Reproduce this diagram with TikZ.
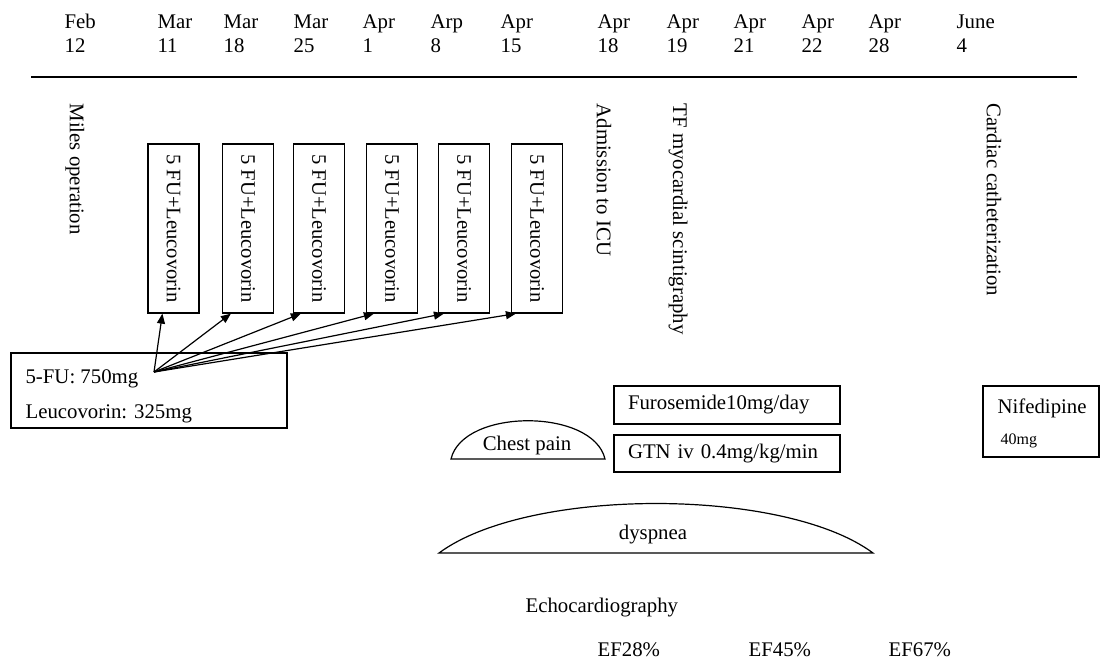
\documentclass[tikz,border=0pt]{standalone}
\usepackage{fontspec}
\setmainfont{Liberation Serif}
\usetikzlibrary{arrows.meta,calc}
\begin{document}
\begin{tikzpicture}[x=0.5pt,y=-0.5pt, line width=0.6pt,
  txt/.style={inner sep=0pt, font=\fontsize{10.4}{12.5}\selectfont},
  vtxt/.style={txt, rotate=-90, anchor=west},
  fubox/.style={draw, rotate=-90, minimum width=84.5pt, minimum height=25.5pt, inner sep=0pt, font=\fontsize{10.3}{12.5}\selectfont},
  rbox/.style={draw, inner sep=0pt, font=\fontsize{10.4}{12.5}\selectfont},
  arr/.style={-{Triangle[length=5pt,width=4pt]}},
]
\useasboundingbox (0,0) rectangle (1101,660);
% header dates
\foreach \x/\m/\d [count=\i] in {64/Feb/12, 157/Mar/11, 223/Mar/18, 293/Mar/25, 362/Apr/1, 430/Arp/8, 500/Apr/15, 597/Apr/18, 666/Apr/19, 733/Apr/21, 801/Apr/22, 868/Apr/28, 956/June/4} {
  \node[txt, anchor=base west] (m\i) at (\x,28) {\m};
  \node[txt, anchor=base west] (d\i) at (\x,52) {\d};
}
\coordinate (axL) at (31,77);
\coordinate (axR) at (1077,77);
\draw (axL) -- (axR);
% vertical event labels
\node[vtxt] (miles) at (75,103) {Miles operation};
\node[vtxt] (icu) at (604,103) {Admission to ICU};
\node[vtxt] (tf) at (678,103) {TF myocardial scintigraphy};
\node[vtxt] (cath) at (994,103) {Cardiac catheterization};
% chemo boxes
\foreach \x [count=\i] in {173.5,248,319,392,464,537}
  \node[fubox] (b\i) at (\x,228.5) {5 FU+Leucovorin};
% dose box
\node[rbox, minimum width=138pt, minimum height=37.5pt] (dose) at (149,390.5) {};
\node[txt, anchor=base west] (dosefu) at (25,383) {5-FU: 750mg};
\node[txt, anchor=base west] (doseleu) at (25,418) {Leucovorin: 325mg};
\coordinate (src) at (154,372);
\foreach \i/\dx in {1/15,2/9,3/8,4/8,5/6,6/5}
  \draw[arr] (src) -- ($(b\i.south east)+(\dx,0)$);
% chest pain
\coordinate (cpL) at (451,459);
\coordinate (cpR) at (605,459);
\draw (cpL) .. controls (463,408) and (593,408) .. (cpR) -- cycle;
\node[txt] (chest) at (527,445) {Chest pain};
% drugs
\node[rbox, minimum width=113pt, minimum height=19pt, text width=99pt, align=left, inner xsep=7pt] (furo) at (727,405) {Furosemide10mg/day};
\node[rbox, minimum width=113pt, minimum height=18.5pt, text width=99pt, align=left, inner xsep=7pt] (gtn) at (727,453.5) {GTN iv 0.4mg/kg/min};
\node[rbox, minimum width=58pt, minimum height=35.5pt] (nif) at (1041,421.5) {};
\node[txt, anchor=base west] (nifname) at (997,413) {Nifedipine};
\node[txt, anchor=base west, font=\fontsize{8}{10}\selectfont] (nifdose) at (1000,444) {40mg};
% dyspnea
\coordinate (dyL) at (439,553);
\coordinate (dyR) at (873,553);
\draw (dyL) .. controls (528,487) and (784,487) .. (dyR) -- cycle;
\node[txt] (dysp) at (653,535) {dyspnea};
% echo
\node[txt, anchor=base west] (echo) at (525,612) {Echocardiography};
\node[txt, anchor=base west] (ef1) at (597,656) {EF28\%};
\node[txt, anchor=base west] (ef2) at (748,656) {EF45\%};
\node[txt, anchor=base west] (ef3) at (888,656) {EF67\%};
\end{tikzpicture}
\end{document}
